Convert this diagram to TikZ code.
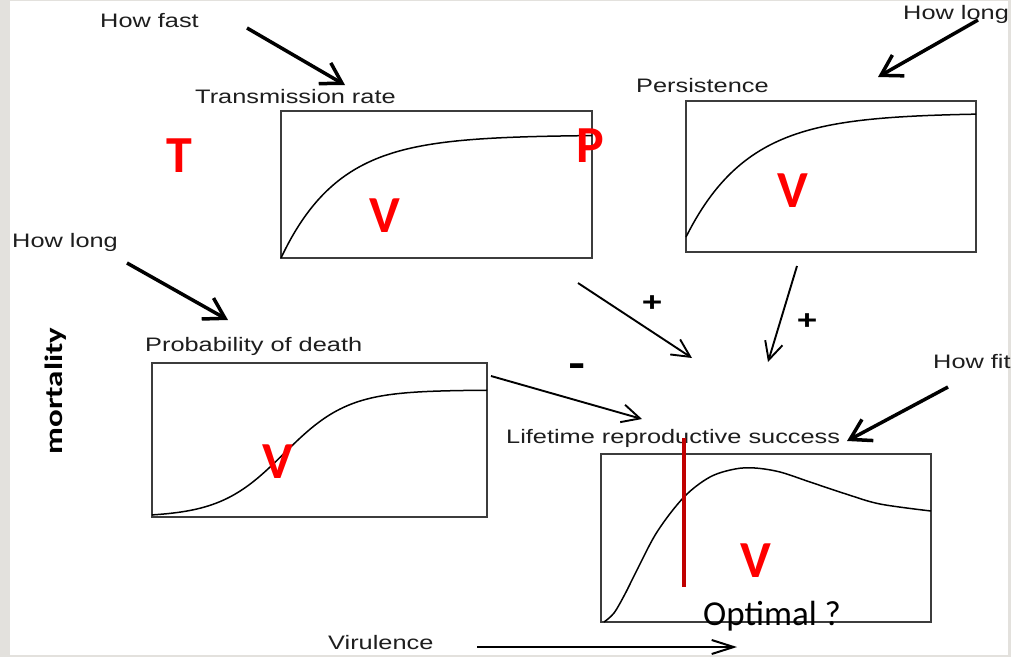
\documentclass[tikz,border=0pt]{standalone}
\usepackage{fontspec}
\usetikzlibrary{arrows.meta}
\setmainfont{Liberation Sans}
\newfontfamily\labfont[FakeStretch=1.3]{Liberation Sans}
\newfontfamily\redfont{Carlito}
\newfontfamily\mortfont[FakeStretch=1.32]{Carlito}
\definecolor{labgray}{RGB}{30,30,30}
\definecolor{boxgray}{RGB}{60,60,60}
\definecolor{bordergray}{RGB}{227,225,221}
\definecolor{darkred}{RGB}{192,0,0}
\tikzset{
  lab/.style={inner sep=0pt, text=labgray, font=\labfont\fontsize{19.5}{22}\selectfont, anchor=base west},
  redl/.style={inner sep=0pt, text=red, font=\redfont\bfseries\fontsize{52}{56}\selectfont, anchor=base},
  sign/.style={inner sep=0pt, text=black, font=\labfont\bfseries\fontsize{27}{29}\selectfont},
  plotbox/.style={draw=boxgray, line width=1.6pt, inner sep=0pt},
  curve/.style={draw=black, line width=1.5pt},
  thickarr/.style={draw=black, line width=3.5pt, -{Straight Barb[length=20pt,width=24pt,line width=3.5pt]}},
  thinarr/.style={draw=black, line width=1.9pt, -{Straight Barb[length=18pt,width=18pt,line width=1.9pt]}},
  virarr/.style={draw=black, line width=2pt, -{Straight Barb[length=22pt,width=14pt,line width=2pt]}},
}
\begin{document}
\begin{tikzpicture}[x=1pt,y=-1pt]
\useasboundingbox (0,0) rectangle (1011,657);
\fill[white] (0,0) rectangle (1011,657);
\fill[bordergray] (0,0) rectangle (10,657);
\fill[bordergray] (1008,0) rectangle (1011,657);
\fill[bordergray] (0,655) rectangle (1011,657);
\fill[bordergray] (0,0) rectangle (1011,1);

% boxes
\node[plotbox, minimum width=311pt, minimum height=147pt] (trbox) at (436.5,184.5) {};
\node[plotbox, minimum width=290pt, minimum height=151pt] (pebox) at (831,176.5) {};
\node[plotbox, minimum width=335pt, minimum height=154pt] (pdbox) at (319.5,440) {};
\node[plotbox, minimum width=330pt, minimum height=168pt] (lrbox) at (766,538) {};

% curves
\draw[curve] plot[domain=281:592, samples=80, smooth] (\x,{258-123*(1-exp(-(\x-281)/58))});
\draw[curve] plot[domain=686:976, samples=80, smooth] (\x,{237-124*(1-exp(-(\x-686)/62))});
\draw[curve] plot[domain=152:487, samples=90, smooth] (\x,{517-127/(1+exp(-(\x-284)/32.3))});
\draw[curve] plot[smooth, tension=0.55] coordinates {(604,622) (614,613) (625,594) (636,572) (657,532) (684,497) (710,477) (735,469) (755,468) (780,472) (810,482) (846,494) (880,504) (931,511)};

% labels
\node[lab] (howfast) at (100,27) {How fast};
\node[lab] (trlab) at (195,103) {Transmission rate};
\node[lab] (howlongr) at (903,19) {How long};
\node[lab] (pelab) at (636,92) {Persistence};
\node[lab] (howlongl) at (12,247) {How long};
\node[lab] (pdlab) at (145,351) {Probability of death};
\node[lab] (lrlab) at (506,443) {Lifetime reproductive success};
\node[lab] (howfit) at (933,368) {How fit};
\node[lab] (virlab) at (328,649) {Virulence};

% red letters
\node[redl] (T) at (179.5,172) {T};
\node[redl] (V1) at (385,232) {V};
\node[redl] (P) at (590,162) {P};
\node[redl] (V2) at (793,207) {V};
\node[redl] (V3) at (278,478) {V};
\node[redl] (V4) at (756,577) {V};
\draw[darkred, line width=4pt] (684,438) -- (684,587);
\node[inner sep=0pt, anchor=base west, font=\redfont\fontsize{35}{38}\selectfont] (opt) at (703,625) {Optimal ?};
\node[inner sep=0pt, rotate=90, font=\mortfont\bfseries\fontsize{25}{28}\selectfont] (mort) at (56,391) {mortality};

% signs
\node[sign] (plus1) at (652,304) {+};
\node[sign] (plus2) at (807,322) {+};
\node[inner sep=0pt, font=\labfont\bfseries\fontsize{40}{42}\selectfont] (minus) at (577,370) {-};

% arrow end points
\coordinate (hfS) at (247,28);   \coordinate (hfE) at (345,85);
\coordinate (hlrS) at (978,20);  \coordinate (hlrE) at (878,77);
\coordinate (hllS) at (127,263); \coordinate (hllE) at (228,320);
\coordinate (hfitS) at (948,387); \coordinate (hfitE) at (847,441);
\coordinate (trS) at (578,283);  \coordinate (trE) at (692,358);
\coordinate (peS) at (797,266);  \coordinate (peE) at (768,362);
\coordinate (pdS) at (491,376);  \coordinate (pdE) at (642,419);
\coordinate (virS) at (477,647); \coordinate (virE) at (737,647);

\draw[thickarr] (hfS) -- (hfE);
\draw[thickarr] (hlrS) -- (hlrE);
\draw[thickarr] (hllS) -- (hllE);
\draw[thickarr] (hfitS) -- (hfitE);
\draw[thinarr] (trS) -- (trE);
\draw[thinarr] (peS) -- (peE);
\draw[thinarr] (pdS) -- (pdE);
\draw[virarr] (virS) -- (virE);
\end{tikzpicture}
\end{document}
